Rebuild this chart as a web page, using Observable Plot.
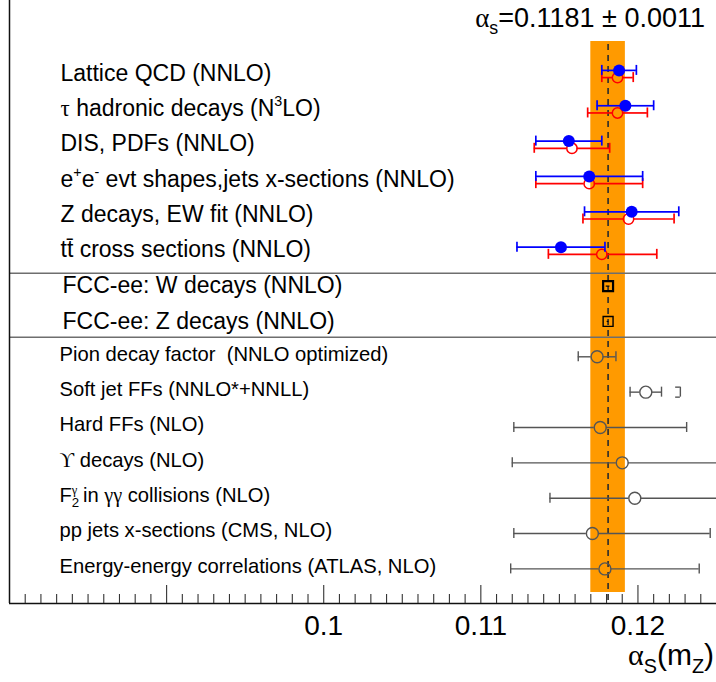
<!DOCTYPE html>
<html><head><meta charset="utf-8">
<script src="https://cdn.jsdelivr.net/npm/d3@7"></script>
<script src="https://cdn.jsdelivr.net/npm/@observablehq/plot@0.6"></script>
<style>
html,body{margin:0;padding:0;background:#fff;}
svg text{white-space:pre;}
</style></head><body><div id="chart"></div>
<script>
// ---------------- data ----------------
const pdgCategories = [
  "Lattice QCD (NNLO)",
  "τ hadronic decays (N^{3}LO)",
  "DIS, PDFs (NNLO)",
  "e^{+}e^{-} evt shapes,jets x-sections (NNLO)",
  "Z decays, EW fit (NNLO)",
  "tt\u0304 cross sections (NNLO)"
];
// blue: filled markers
const blueValue = [0.1188, 0.1192, 0.1156, 0.1169, 0.1196, 0.1151];
const blueLow   = [0.1177, 0.1174, 0.1135, 0.1135, 0.1166, 0.1123];
const blueHigh  = [0.1199, 0.1210, 0.1177, 0.1203, 0.1226, 0.1179];
// red: open markers
const redValue = [0.1187, 0.1187, 0.1158, 0.1169, 0.1194, 0.1177];
const redLow   = [0.1177, 0.1168, 0.1134, 0.1135, 0.1165, 0.1143];
const redHigh  = [0.1197, 0.1206, 0.1182, 0.1203, 0.1223, 0.1212];

const fccCategories = ["FCC-ee: W decays (NNLO)", "FCC-ee: Z decays (NNLO)"];
const fccValue = [0.1181, 0.1181];
const fccError = [0.00012, 0.00006];

const otherCategories = [
  "Pion decay factor  (NNLO optimized)",
  "Soft jet FFs (NNLO*+NNLL)",
  "Hard FFs (NLO)",
  "ϒ decays (NLO)",
  "F_{2}^{γ} in γγ collisions (NLO)",
  "pp jets x-sections (CMS, NLO)",
  "Energy-energy correlations (ATLAS, NLO)"
];
const otherValue = [0.1174, 0.1205, 0.1176, 0.1190, 0.1198, 0.1171, 0.1179];
const otherLow   = [0.1162, 0.1195, 0.1121, 0.1120, 0.1144, 0.1121, 0.1119];
const otherHigh  = [0.1186, 0.1215, 0.1231, 0.1260, 0.1252, 0.1246, 0.1239];
const softJetBracket = [0.1227];

const worldAverage = 0.1181;
const worldError = 0.0011;
const xTickLabels = [0.1, 0.11, 0.12];
const majorTicks = [0.09, 0.10, 0.11, 0.12];
const minorTicks = d3.range(81, 125).filter(i => i % 10 !== 0).map(i => i / 1000);

// ---------------- layout ----------------
const W = 716, H = 682, ML = 9, MB = 79;
const PLOT_H = H - MB;          // 603
const ROW_PX = 35.35, FIRST_ROW_PX = 73.5;
const yTop = -FIRST_ROW_PX / ROW_PX;
const yBottom = (PLOT_H - FIRST_ROW_PX) / ROW_PX;
const CAP = 5 / ROW_PX;
const sectionBreaks = [(272.7 - FIRST_ROW_PX) / ROW_PX, (336.7 - FIRST_ROW_PX) / ROW_PX];

const pdgRows = pdgCategories.map((c, i) => ({row: i, label: c,
  blue: blueValue[i], blueLo: blueLow[i], blueHi: blueHigh[i],
  red: redValue[i], redLo: redLow[i], redHi: redHigh[i]}));
const fccRows = fccCategories.map((c, i) => ({row: pdgCategories.length + i, label: c,
  v: fccValue[i], lo: fccValue[i] - fccError[i], hi: fccValue[i] + fccError[i], w: i === 0 ? 2.2 : 1.4}));
const otherRows = otherCategories.map((c, i) => ({row: pdgCategories.length + fccCategories.length + i, label: c,
  v: otherValue[i], lo: otherLow[i], hi: otherHigh[i]}));
const bracketRows = softJetBracket.map(b => ({x: b, row: otherRows[1].row}));

function errorBars(rows, {v, lo, hi, stroke, dy = 0, gap = 0, strokeWidth = 1.5}) {
  return [
    Plot.ruleY(rows, {y: "row", x1: lo, x2: v, insetRight: gap, dy, stroke, strokeWidth}),
    Plot.ruleY(rows, {y: "row", x1: v, x2: hi, insetLeft: gap, dy, stroke, strokeWidth}),
    Plot.ruleX(rows, {x: lo, y1: d => d.row - CAP, y2: d => d.row + CAP, dy, stroke, strokeWidth}),
    Plot.ruleX(rows, {x: hi, y1: d => d.row - CAP, y2: d => d.row + CAP, dy, stroke, strokeWidth})
  ];
}

const GRAY = "#555";
const svg = Plot.plot({
  width: W, height: H,
  marginLeft: ML, marginRight: 0, marginTop: 0, marginBottom: MB,
  style: {fontFamily: "'Liberation Sans', Arial, Helvetica, sans-serif", background: "#fff", overflow: "visible"},
  x: {domain: [0.08, 0.125], axis: null},
  y: {domain: [yTop, yBottom], reverse: true, axis: null},
  marks: [
    Plot.rect([worldAverage], {x1: d => d - worldError, x2: d => d + worldError, insetTop: 41, insetBottom: 11, fill: "#ff9a00"}),
    Plot.ruleX([worldAverage], {insetTop: 44, insetBottom: 2, stroke: "#2b2b2b", strokeWidth: 1.6, strokeDasharray: "6,5"}),
    Plot.ruleY(sectionBreaks, {stroke: "#6e6e6e", strokeWidth: 1.5}),
    Plot.ruleX([0.08], {stroke: "#111", strokeWidth: 1.5}),
    Plot.ruleY([yBottom], {stroke: "#111", strokeWidth: 1.5}),
    Plot.ruleX(minorTicks, {insetTop: PLOT_H - 9, stroke: "#333", strokeWidth: 1.1}),
    Plot.ruleX(majorTicks, {insetTop: PLOT_H - 18, stroke: "#333", strokeWidth: 1.1}),
    Plot.axisX(xTickLabels, {tickSize: 0, tickPadding: 12, fontSize: 28, tickFormat: d => String(d), fill: "#000"}),

    // PDG-type measurements: red (open) then blue (filled)
    ...errorBars(pdgRows, {v: "red", lo: "redLo", hi: "redHi", stroke: "#ff0000", dy: 3.6, gap: 5, strokeWidth: 1.7}),
    Plot.dot(pdgRows, {x: "red", y: "row", dy: 3.6, r: 5.2, stroke: "#ff0000", strokeWidth: 1.5, fill: "none"}),
    ...errorBars(pdgRows, {v: "blue", lo: "blueLo", hi: "blueHi", stroke: "#0000ff", dy: -3.6, gap: 0, strokeWidth: 1.7}),
    Plot.dot(pdgRows, {x: "blue", y: "row", dy: -3.6, r: 6, fill: "#0000ff"}),

    // FCC-ee projections
    Plot.ruleY(fccRows, {y: "row", x1: "lo", x2: "hi", stroke: "#000", strokeWidth: 1.2}),
    Plot.dot(fccRows, {x: "v", y: "row", symbol: "square", r: 5.6, stroke: "#000", strokeWidth: d => d.w, fill: "none"}),

    // other determinations
    ...errorBars(otherRows, {v: "v", lo: "lo", hi: "hi", stroke: GRAY, gap: 6, strokeWidth: 1.4}),
    Plot.dot(otherRows, {x: "v", y: "row", r: 6, stroke: GRAY, strokeWidth: 1.4, fill: "none"}),
    Plot.ruleX(bracketRows, {x: "x", y1: d => d.row - CAP, y2: d => d.row + CAP, stroke: GRAY, strokeWidth: 1.4}),
    Plot.ruleY(bracketRows, {y: d => d.row - CAP, x1: d => d.x - 0.0003, x2: "x", stroke: GRAY, strokeWidth: 1.4}),
    Plot.ruleY(bracketRows, {y: d => d.row + CAP, x1: d => d.x - 0.0003, x2: "x", stroke: GRAY, strokeWidth: 1.4}),

    // labels
    Plot.text(pdgRows, {y: "row", text: "label", frameAnchor: "left", textAnchor: "start", dx: 51, dy: -0.8, fontSize: 23, fill: "#000"}),
    Plot.text(fccRows, {y: "row", text: "label", frameAnchor: "left", textAnchor: "start", dx: 53, dy: 0, fontSize: 23, fill: "#000"}),
    Plot.text(otherRows, {y: "row", text: "label", frameAnchor: "left", textAnchor: "start", dx: 50, dy: -2.6, fontSize: 20.2, fill: "#000"})
  ]
});
document.getElementById("chart").appendChild(svg);

// titles
const sel = d3.select(svg);
sel.append("text").attr("x", 705).attr("y", 27).attr("text-anchor", "end")
  .attr("font-size", 27).attr("fill", "#000").attr("class", "rich").text("α_{s}=0.1181 ± 0.0011");
sel.append("text").attr("x", 714).attr("y", 665).attr("text-anchor", "end")
  .attr("font-size", 30).attr("fill", "#000").attr("class", "rich").text("α_{S}(m_{Z})");

// rich text: ^{sup}, _{sub}, Greek in serif
const GREEK = /[\u0370-\u03FF]/;
function richify(el) {
  const base = parseFloat(getComputedStyle(el).fontSize);
  const s = el.textContent;
  const re = /\^\{([^}]*)\}|_\{([^}]*)\}|([\u0370-\u03FF]+)/g;
  const tokens = []; let last = 0, m;
  while ((m = re.exec(s)) !== null) {
    if (m.index > last) tokens.push({t: s.slice(last, m.index), k: "n"});
    if (m[1] !== undefined) tokens.push({t: m[1], k: "sup"});
    else if (m[2] !== undefined) tokens.push({t: m[2], k: "sub"});
    else tokens.push({t: m[3], k: "g"});
    last = re.lastIndex;
  }
  if (last < s.length) tokens.push({t: s.slice(last), k: "n"});
  if (tokens.length === 1 && tokens[0].k === "n") return;
  el.textContent = "";
  let shift = 0, prev = null;
  for (const tok of tokens) {
    const ts = document.createElementNS("http://www.w3.org/2000/svg", "tspan");
    ts.textContent = tok.t;
    let target = 0;
    if (tok.k === "sup") { target = -0.42 * base; ts.setAttribute("font-size", (0.62 * base).toFixed(1)); }
    else if (tok.k === "sub") { target = 0.26 * base; ts.setAttribute("font-size", (0.66 * base).toFixed(1)); }
    if (GREEK.test(tok.t)) ts.setAttribute("font-family", "'Liberation Serif', 'DejaVu Serif', serif");
    if (target !== shift) ts.setAttribute("dy", (target - shift).toFixed(2));
    shift = target;
    el.appendChild(ts);
    if (prev && ((prev.k === "sub" && tok.k === "sup") || (prev.k === "sup" && tok.k === "sub"))) {
      ts.setAttribute("dx", (-prev.w).toFixed(2));
    }
    tok.w = ts.getComputedTextLength();
    prev = tok;
  }
}
sel.selectAll("text").each(function() { richify(this); });
</script></body></html>
